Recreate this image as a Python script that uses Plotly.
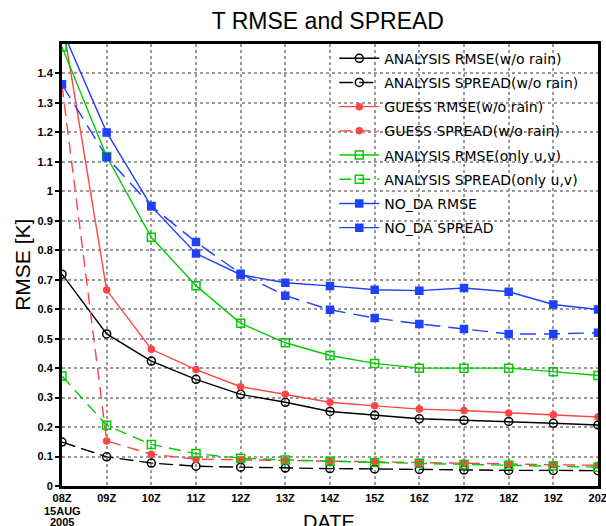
import plotly.graph_objects as go

hours = ["08Z", "09Z", "10Z", "11Z", "12Z", "13Z", "14Z", "15Z", "16Z", "17Z", "18Z", "19Z", "20Z"]
tick_labels = ["08Z", "09Z", "10Z", "11Z", "12Z", "13Z", "14Z", "15Z", "16Z", "17Z", "18Z", "19Z", "20Z"]
date_lines = ["15AUG", "2005"]

ana_rmse = [0.719, 0.516, 0.424, 0.362, 0.311, 0.284, 0.253, 0.240, 0.228, 0.223, 0.219, 0.213, 0.207]
ana_spread = [0.149, 0.099, 0.078, 0.067, 0.064, 0.061, 0.059, 0.058, 0.056, 0.054, 0.053, 0.053, 0.052]
gue_rmse = [1.585, 0.665, 0.464, 0.395, 0.337, 0.311, 0.284, 0.272, 0.261, 0.256, 0.248, 0.242, 0.234]
gue_spread = [1.36, 0.153, 0.108, 0.091, 0.089, 0.087, 0.085, 0.082, 0.079, 0.077, 0.075, 0.072, 0.070]
uv_rmse = [1.49, 1.118, 0.844, 0.680, 0.552, 0.486, 0.443, 0.416, 0.400, 0.400, 0.400, 0.388, 0.375]
uv_spread = [0.373, 0.206, 0.141, 0.110, 0.094, 0.088, 0.084, 0.080, 0.077, 0.073, 0.070, 0.068, 0.064]
noda_rmse = [1.549, 1.200, 0.949, 0.789, 0.717, 0.690, 0.679, 0.666, 0.663, 0.672, 0.659, 0.616, 0.599]
noda_spread = [1.363, 1.116, 0.950, 0.828, 0.720, 0.646, 0.598, 0.570, 0.550, 0.533, 0.516, 0.516, 0.520]

y_range = [0, 1.5]
y_ticks = [0, 0.1, 0.2, 0.3, 0.4, 0.5, 0.6, 0.7, 0.8, 0.9, 1.0, 1.1, 1.2, 1.3, 1.4]
y_tick_labels = ["0", "0.1", "0.2", "0.3", "0.4", "0.5", "0.6", "0.7", "0.8", "0.9", "1", "1.1", "1.2", "1.3", "1.4"]

BLACK = "#000000"
RED = "#ff4545"
GREEN = "#00cc00"
BLUE = "#2040ff"

series = [
    ("ANALYSIS RMSE(w/o rain)", ana_rmse, BLACK, "solid", "circle-open", 8),
    ("ANALYSIS SPREAD(w/o rain)", ana_spread, BLACK, "14px,6px", "circle-open", 8),
    ("GUESS RMSE(w/o rain)", gue_rmse, RED, "solid", "circle", 6),
    ("GUESS SPREAD(w/o rain)", gue_spread, RED, "12px,7px", "circle", 6),
    ("ANALYSIS RMSE(only u,v)", uv_rmse, GREEN, "solid", "square-open", 8),
    ("ANALYSIS SPREAD(only u,v)", uv_spread, GREEN, "12px,7px", "square-open", 8),
    ("NO_DA RMSE", noda_rmse, BLUE, "solid", "square", 7),
    ("NO_DA SPREAD", noda_spread, BLUE, "16px,8px", "square", 7),
]

fig = go.Figure()
for i, (name, vals, col, dash, sym, sz) in enumerate(series):
    fig.add_trace(go.Scatter(
        x=hours, y=vals, name=name, mode="lines+markers",
        line=dict(color=col, width=1.4, dash=dash),
        marker=dict(symbol=sym, size=sz, color=col, line=dict(color=col, width=1.5)),
        legendgroup=f"g{i}",
    ))

bold_x = ["<b>" + t + "</b>" for t in tick_labels]
bold_y = ["<b>" + t + "</b>" for t in y_tick_labels]

ann = [
    dict(text="RMSE [K]", xref="paper", yref="paper", x=-0.075, y=0.5,
         textangle=-90, showarrow=False, xanchor="center", yanchor="middle",
         font=dict(family="Liberation Sans", size=21, color="black")),
    dict(text="DATE", xref="paper", yref="paper", x=0.499, y=-0.051,
         showarrow=False, xanchor="center", yanchor="top",
         font=dict(family="Liberation Sans", size=20, color="black")),
]
for k, t in enumerate(date_lines):
    ann.append(dict(text="<b>" + t + "</b>", xref="x", yref="paper", x=hours[0], y=-0.0376 - 0.0249 * k,
                    showarrow=False, xanchor="center", yanchor="top",
                    font=dict(family="Liberation Sans", size=11, color="black")))

fig.update_layout(
    width=606, height=526,
    margin=dict(l=62, r=8, t=44, b=40, autoexpand=False),
    paper_bgcolor="white", plot_bgcolor="white",
    title=dict(text="T RMSE and SPREAD", x=0.541, xanchor="center", y=0.96, yanchor="middle",
               font=dict(family="Liberation Sans", size=23, color="black")),
    showlegend=True,
    legend=dict(x=0.508, y=1.003, xanchor="left", yanchor="top", bgcolor="rgba(0,0,0,0)",
                font=dict(family="DejaVu Sans", size=14, color="black"),
                tracegroupgap=3, itemwidth=40),
    xaxis=dict(
        type="category", range=[0, 12],
        tickmode="array", tickvals=hours, ticktext=bold_x,
        tickfont=dict(family="Liberation Sans", size=11, color="black"),
        showgrid=True, gridcolor="#9a9a9a", griddash="dot", gridwidth=1.5,
        showline=True, mirror=True, linecolor="black", linewidth=3,
        ticks="", automargin=False,
        zeroline=False,
    ),
    yaxis=dict(
        range=y_range, tickmode="array", tickvals=y_ticks, ticktext=bold_y,
        tickfont=dict(family="Liberation Sans", size=11, color="black"),
        showgrid=True, gridcolor="#9a9a9a", griddash="dot", gridwidth=1.5,
        showline=True, mirror=True, linecolor="black", linewidth=3,
        ticks="outside", ticklen=4, tickwidth=1.5, tickcolor="black", automargin=False,
        zeroline=False,
    ),
    annotations=ann,
)

fig.write_html("out.html", config={"displayModeBar": False},
               post_script="document.body.style.margin='0';document.body.style.overflow='hidden';")
